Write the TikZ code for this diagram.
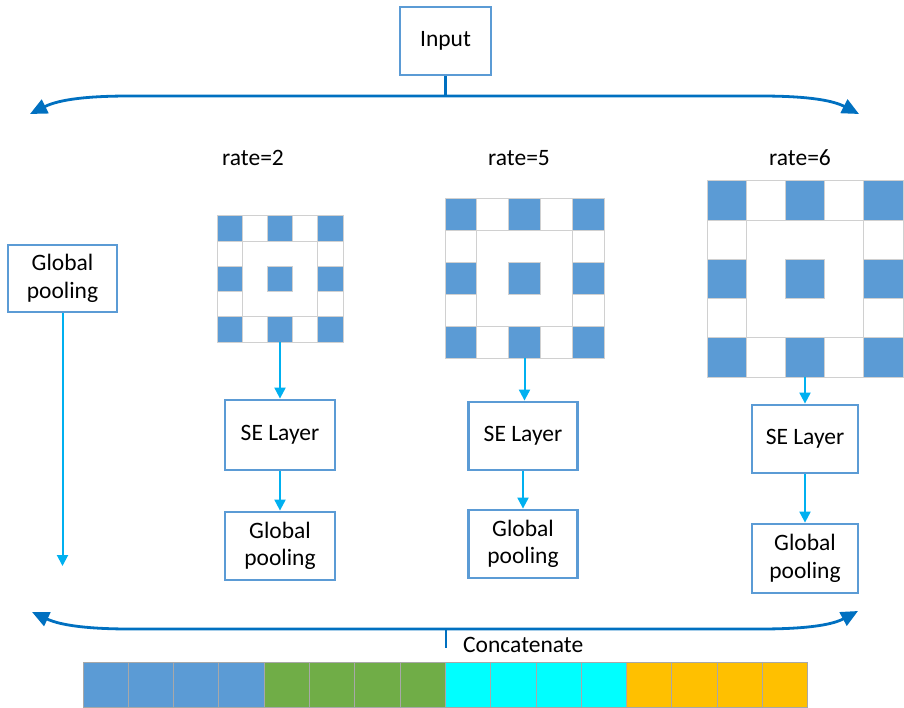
\documentclass[tikz,border=0pt]{standalone}
\usepackage{fontspec}
\setmainfont{Carlito}
\usetikzlibrary{arrows.meta}
\definecolor{boxblue}{HTML}{5B9BD5}
\definecolor{cellblue}{HTML}{5B9BD5}
\definecolor{conncyan}{HTML}{00B0F0}
\definecolor{braceblue}{HTML}{0070C0}
\definecolor{gridgray}{HTML}{D0D0D0}
\definecolor{bargreen}{HTML}{70AD47}
\definecolor{barcyan}{HTML}{00FFFF}
\definecolor{barorange}{HTML}{FFC000}
\definecolor{bargray}{HTML}{A8A8A8}
\tikzset{
  labelfont/.style={font=\fontsize{23.5}{27.5}\selectfont},
  blockbox/.style={draw=boxblue, line width=2.8pt, fill=white, inner sep=0pt,
    align=center, labelfont},
  conn/.style={draw=conncyan, line width=2pt, -{Triangle[length=11pt,width=11pt]}},
  bracel/.style={draw=braceblue, line width=2.8pt},
  gridline/.style={draw=gridgray, line width=1pt},
}
\newcommand{\drawgrid}[4]{%
  \foreach \i in {0,...,4}{\foreach \j in {0,...,4}{%
    \pgfmathtruncatemacro{\ring}{((\i==0)||(\i==4)||(\j==0)||(\j==4))?1:0}%
    \pgfmathtruncatemacro{\isblue}{((mod(\i,2)==0)&&(mod(\j,2)==0))?1:0}%
    \ifnum\ring=1
      \ifnum\isblue=1
        \filldraw[gridline, fill=cellblue] (#1+\j*#3, #2+\i*#3) rectangle ++(#3,#3);
      \else
        \filldraw[gridline, fill=white] (#1+\j*#3, #2+\i*#3) rectangle ++(#3,#3);
      \fi
    \fi
  }}
  \filldraw[gridline, fill=white] (#1+#3, #2+#3) rectangle (#1+4*#3, #2+4*#3);
  \filldraw[gridline, fill=cellblue] (#1+2*#3, #2+2*#3) rectangle ++(#3,#3);
  \node[inner sep=0pt, minimum size={5*#3*1pt}] (#4) at (#1+2.5*#3, #2+2.5*#3) {};
}
\begin{document}
\begin{tikzpicture}[x=1pt,y=-1pt]
\useasboundingbox (0,0) rectangle (904,708);

% Input and top brace
\node[blockbox, minimum width=91pt, minimum height=68pt] (in) at (445.5,41) {Input};
\coordinate (tj) at (445.5,96);
\coordinate (tl) at (30,114);
\coordinate (tr) at (859,114);
\draw[bracel] (in.south) -- (tj);
\draw[bracel, {Triangle[length=17pt,width=15pt]}-{Triangle[length=17pt,width=15pt]}]
  (tl) .. controls (60,99) and (90,96) .. (130,96) -- (760,96)
  .. controls (800,96) and (830,99) .. (tr);

% rate labels
\node[labelfont] (r2) at (253,158) {rate=2};
\node[labelfont] (r5) at (519,158) {rate=5};
\node[labelfont] (r6) at (800,158) {rate=6};

% grids
\drawgrid{217}{216}{25.2}{g1}
\drawgrid{445}{199}{31.8}{g2}
\drawgrid{707}{181}{39.2}{g3}

% left global pooling
\node[blockbox, minimum width=109pt, minimum height=67pt] (gp0) at (62.5,278.5) {Global\\pooling};
\coordinate (gp0end) at (62.5,566);
\draw[conn] (gp0.south) -- (gp0end);

% column 1
\node[blockbox, minimum width=110pt, minimum height=70pt] (se1) at (280,435) {SE Layer};
\node[blockbox, minimum width=110pt, minimum height=68pt] (gp1) at (280,546) {Global\\pooling};
\draw[conn] (g1.south) -- (g1.south |- se1.north);
\draw[conn] (se1.south) -- (gp1.north);

% column 2
\node[blockbox, minimum width=109pt, minimum height=68pt] (se2) at (523,436) {SE Layer};
\node[blockbox, minimum width=109pt, minimum height=68pt] (gp2) at (523,544) {Global\\pooling};
\draw[conn] (g2.south) -- (g2.south |- se2.north);
\draw[conn] (se2.south) -- (gp2.north);

% column 3
\node[blockbox, minimum width=106pt, minimum height=68pt] (se3) at (805,439) {SE Layer};
\node[blockbox, minimum width=106pt, minimum height=69pt] (gp3) at (805,558.5) {Global\\pooling};
\draw[conn] (g3.south) -- (g3.south |- se3.north);
\draw[conn] (se3.south) -- (gp3.north);

% bottom brace
\coordinate (bl) at (32,612);
\coordinate (br) at (858,611);
\coordinate (bj) at (446,629);
\coordinate (bt) at (446,648);
\draw[bracel, {Triangle[length=17pt,width=15pt]}-{Triangle[length=17pt,width=15pt]}]
  (bl) .. controls (62,626) and (92,629) .. (130,629) -- (760,629)
  .. controls (800,629) and (830,626) .. (br);
\draw[bracel] (bj) -- (bt);
\node[labelfont, anchor=west, inner sep=0pt] (cat) at (463,645) {Concatenate};

% concatenated vector
\foreach \k in {0,...,15}{
  \pgfmathtruncatemacro{\grp}{int(\k/4)}
  \ifcase\grp \def\cc{cellblue}\or \def\cc{bargreen}\or \def\cc{barcyan}\or \def\cc{barorange}\fi
  \filldraw[draw=bargray, line width=1pt, fill=\cc] (83+\k*45.3,662) rectangle ++(45.3,45.5);
}
\end{tikzpicture}
\end{document}
